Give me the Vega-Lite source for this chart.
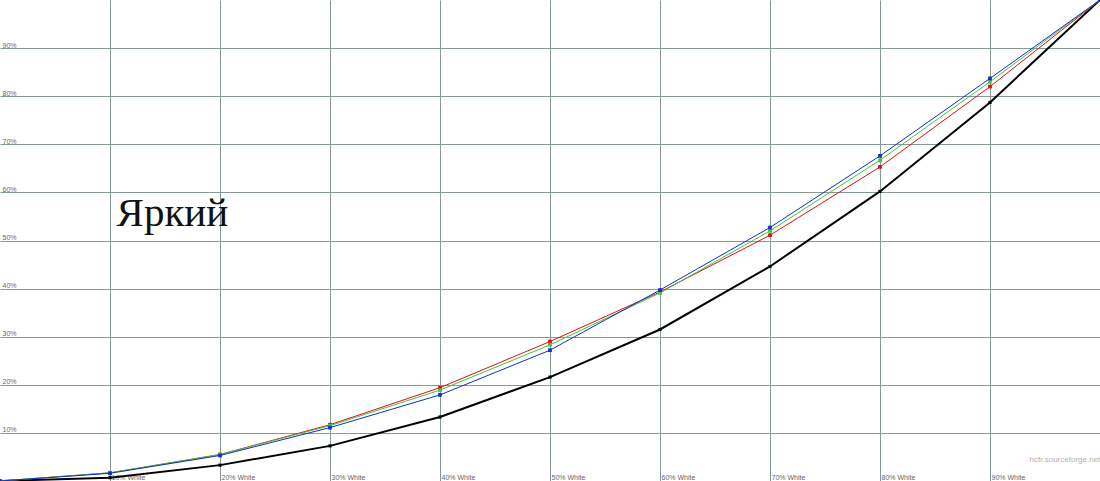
{
  "$schema": "https://vega.github.io/schema/vega-lite/v6.json",
  "width": 1100,
  "height": 481,
  "autosize": {"type": "none"},
  "padding": 0,
  "background": "white",
  "config": {"view": {"stroke": null}},
  "datasets": {
    "lum": [
      {"x": 0, "v": 0, "s": "Y"},
      {"x": 10, "v": 0.7, "s": "Y"},
      {"x": 20, "v": 3.3, "s": "Y"},
      {"x": 30, "v": 7.3, "s": "Y"},
      {"x": 40, "v": 13.3, "s": "Y"},
      {"x": 50, "v": 21.6, "s": "Y"},
      {"x": 60, "v": 31.5, "s": "Y"},
      {"x": 70, "v": 44.6, "s": "Y"},
      {"x": 80, "v": 60.2, "s": "Y"},
      {"x": 90, "v": 78.7, "s": "Y"},
      {"x": 100, "v": 100, "s": "Y"}
    ],
    "rgb": [
      {"x": 0, "v": 0, "s": "R"},
      {"x": 10, "v": 1.7, "s": "R"},
      {"x": 20, "v": 5.5, "s": "R"},
      {"x": 30, "v": 11.7, "s": "R"},
      {"x": 40, "v": 19.4, "s": "R"},
      {"x": 50, "v": 29.0, "s": "R"},
      {"x": 60, "v": 39.3, "s": "R"},
      {"x": 70, "v": 51.1, "s": "R"},
      {"x": 80, "v": 65.3, "s": "R"},
      {"x": 90, "v": 82.0, "s": "R"},
      {"x": 100, "v": 100, "s": "R"},
      {"x": 0, "v": 0, "s": "G"},
      {"x": 10, "v": 1.7, "s": "G"},
      {"x": 20, "v": 5.5, "s": "G"},
      {"x": 30, "v": 11.5, "s": "G"},
      {"x": 40, "v": 18.9, "s": "G"},
      {"x": 50, "v": 28.3, "s": "G"},
      {"x": 60, "v": 39.1, "s": "G"},
      {"x": 70, "v": 52.0, "s": "G"},
      {"x": 80, "v": 66.7, "s": "G"},
      {"x": 90, "v": 83.0, "s": "G"},
      {"x": 100, "v": 100, "s": "G"},
      {"x": 0, "v": 0, "s": "B"},
      {"x": 10, "v": 1.6, "s": "B"},
      {"x": 20, "v": 5.3, "s": "B"},
      {"x": 30, "v": 11.1, "s": "B"},
      {"x": 40, "v": 17.9, "s": "B"},
      {"x": 50, "v": 27.2, "s": "B"},
      {"x": 60, "v": 39.7, "s": "B"},
      {"x": 70, "v": 52.7, "s": "B"},
      {"x": 80, "v": 67.6, "s": "B"},
      {"x": 90, "v": 83.7, "s": "B"},
      {"x": 100, "v": 100, "s": "B"}
    ],
    "labels": [
      {"x": 10.6, "v": 53.1, "t": "Яркий", "k": "title"},
      {"x": 93.6, "v": 3.9, "t": "hcfr.sourceforge.net", "k": "credit"}
    ]
  },
  "layer": [
    {
      "data": {"name": "lum"},
      "mark": {"type": "line", "color": "black", "strokeWidth": 2, "point": {"shape": "square", "size": 10, "color": "black", "filled": true}},
      "encoding": {
        "x": {
          "field": "x", "type": "quantitative",
          "scale": {"domain": [0, 100], "nice": false},
          "axis": {
            "title": null, "values": [10, 20, 30, 40, 50, 60, 70, 80, 90],
            "labelExpr": "datum.value + '% White'",
            "grid": true, "gridColor": "#869898", "gridWidth": 1, "gridOpacity": 1,
            "domain": false, "ticks": false,
            "labelAlign": "left", "labelBaseline": "bottom", "labelPadding": -1,
            "labelFont": "Liberation Sans", "labelFontSize": 7, "labelColor": "#666666",
            "labelOverlap": false, "labelFlush": false, "labelOffset": 1
          }
        },
        "y": {
          "field": "v", "type": "quantitative",
          "scale": {"domain": [0, 100], "nice": false},
          "axis": {
            "title": null, "values": [10, 20, 30, 40, 50, 60, 70, 80, 90],
            "labelExpr": "datum.value + '%'",
            "grid": true, "gridColor": "#869898", "gridWidth": 1, "gridOpacity": 1,
            "domain": false, "ticks": false, "orient": "left",
            "labelAlign": "left", "labelBaseline": "bottom", "labelPadding": -2,
            "labelFont": "Liberation Sans", "labelFontSize": 7, "labelColor": "#666666",
            "labelOverlap": false, "labelFlush": false
          }
        }
      }
    },
    {
      "data": {"name": "rgb"},
      "mark": {"type": "line", "strokeWidth": 1, "point": {"shape": "square", "size": 14, "filled": true}},
      "encoding": {
        "x": {"field": "x", "type": "quantitative"},
        "y": {"field": "v", "type": "quantitative"},
        "color": {
          "field": "s", "type": "nominal",
          "scale": {"domain": ["R", "G", "B"], "range": ["#e01010", "#40c840", "#1030c8"]},
          "legend": null
        },
        "order": {"field": "x"}
      }
    },
    {
      "data": {"name": "labels"},
      "transform": [{"filter": "datum.k == 'title'"}],
      "mark": {"type": "text", "font": "Liberation Serif", "fontSize": 41, "align": "left", "baseline": "alphabetic", "color": "#111111"},
      "encoding": {
        "x": {"field": "x", "type": "quantitative"},
        "y": {"field": "v", "type": "quantitative"},
        "text": {"field": "t"}
      }
    },
    {
      "data": {"name": "labels"},
      "transform": [{"filter": "datum.k == 'credit'"}],
      "mark": {"type": "text", "font": "Liberation Sans", "fontSize": 8, "align": "left", "baseline": "alphabetic", "color": "#b0b0b0"},
      "encoding": {
        "x": {"field": "x", "type": "quantitative"},
        "y": {"field": "v", "type": "quantitative"},
        "text": {"field": "t"}
      }
    }
  ]
}
